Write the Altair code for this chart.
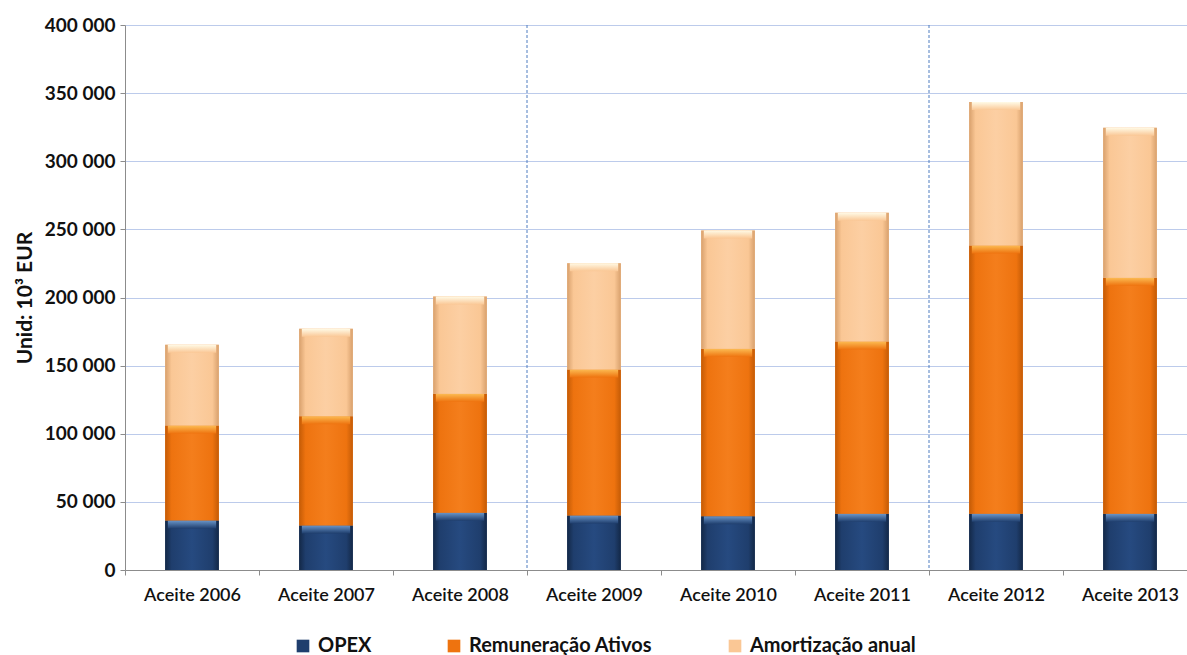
import altair as alt
import pandas as pd

# Values in 10^3 EUR
anos = ["Aceite 2006", "Aceite 2007", "Aceite 2008", "Aceite 2009",
        "Aceite 2010", "Aceite 2011", "Aceite 2012", "Aceite 2013"]
opex = [36300, 32700, 42000, 40000, 39500, 41200, 41200, 41200]
remuneracao = [69700, 80200, 87300, 107200, 122800, 126500, 197000, 173300]
amortizacao = [59300, 64100, 71400, 78000, 86900, 94500, 105200, 110100]

series = ["OPEX", "Remuneração Ativos", "Amortização anual"]
cores = ["#1f3e6d", "#ee730f", "#fac795"]
# edge / centre / top highlight tones for the bevelled look
bordas = ["#132847", "#c45b06", "#d8a06c"]
centros = ["#264a80", "#f47e1c", "#fccfa3"]
brilhos = ["#6a95c8", "#fcbb52", "#fffae6"]

separadores = ["Aceite 2009", "Aceite 2012"]

rows = []
for i, ano in enumerate(anos):
    for k, (nome, vals) in enumerate(zip(series, [opex, remuneracao, amortizacao])):
        rows.append({"ano": ano, "serie": nome, "ordem": k, "valor": vals[i]})
df = pd.DataFrame(rows)
sep_df = pd.DataFrame({"ano": separadores})

W, H = 1062, 545
FONT = "Lato"

x_scale = alt.Scale(domain=anos, range=[0, 1072], paddingInner=0, paddingOuter=0)
y_scale = alt.Scale(domain=[0, 400000])

base = alt.Chart(df).transform_stack(
    stack="valor", groupby=["ano"], as_=["y0", "y1"],
    sort=[alt.SortField("ordem", order="ascending")]
)

x_enc = alt.X(
    "ano:N", scale=x_scale, sort=anos, title=None,
    axis=alt.Axis(
        tickBand="extent", ticks=True, tickSize=5, tickColor="#8c8c8c",
        domainColor="#8c8c8c", labelFont=FONT, labelFontSize=18,
        labelFontWeight=600, labelColor="#111111", labelPadding=11,
        labelAngle=0, grid=False,
    ),
)
y_enc = alt.Y(
    "y1:Q", scale=y_scale,
    title="Unid: 10³ EUR",
    axis=alt.Axis(
        values=list(range(0, 400001, 50000)),
        labelExpr="replace(format(datum.value, ','), /,/g, ' ')",
        grid=True, gridColor="#bccbeb", gridWidth=1,
        domainColor="#8c8c8c", tickColor="#8c8c8c", tickSize=5,
        labelFont=FONT, labelFontSize=19, labelFontWeight="bold",
        labelColor="#111111", labelPadding=5,
        titleFont=FONT, titleFontSize=21, titleFontWeight="bold",
        titleColor="#111111", titlePadding=9,
    ),
)

bar_w = alt.RelativeBandSize(0.4)

# solid layer carrying the legend
solid = base.mark_bar(width=bar_w).encode(
    x=x_enc,
    y=y_enc,
    y2="y0:Q",
    color=alt.Color(
        "serie:N",
        scale=alt.Scale(domain=series, range=cores),
        legend=alt.Legend(
            title=None, orient="none", direction="horizontal",
            legendX=168, legendY=611, columnPadding=72,
            symbolType="square", symbolSize=160, symbolStrokeWidth=0,
            labelFont=FONT, labelFontSize=20, labelFontWeight="bold",
            labelColor="#111111", labelOffset=5, labelLimit=400,
        ),
    ),
)

layers = [solid]
for k, nome in enumerate(series):
    body = alt.Gradient(
        gradient="linear", x1=0, x2=1, y1=0, y2=0,
        stops=[
            alt.GradientStop(color=bordas[k], offset=0),
            alt.GradientStop(color=cores[k], offset=0.12),
            alt.GradientStop(color=centros[k], offset=0.5),
            alt.GradientStop(color=cores[k], offset=0.88),
            alt.GradientStop(color=bordas[k], offset=1),
        ],
    )
    top = alt.Gradient(
        gradient="linear", x1=0, x2=0, y1=0, y2=1,
        stops=[
            alt.GradientStop(color=brilhos[k], offset=0),
            alt.GradientStop(color=cores[k], offset=1),
        ],
    )
    seg = base.transform_filter(alt.datum.serie == nome)
    layers.append(
        seg.mark_bar(width=bar_w, fill=body).encode(
            x=alt.X("ano:N", scale=x_scale, sort=anos),
            y=alt.Y("y1:Q", scale=y_scale),
            y2="y0:Q",
        )
    )
    layers.append(
        seg.mark_bar(width=alt.RelativeBandSize(0.36), fill=top, y2Offset=8).encode(
            x=alt.X("ano:N", scale=x_scale, sort=anos),
            y=alt.Y("y1:Q", scale=y_scale),
            y2="y1:Q",
        )
    )

# dashed separators between groups of years
sep = alt.Chart(sep_df).mark_rule(color="#4f7cc0", strokeDash=[3, 2], strokeWidth=1).encode(
    x=alt.X("ano:N", scale=x_scale, sort=anos, bandPosition=0),
    y=alt.value(0),
    y2=alt.value(H),
)
layers.append(sep)

chart = alt.layer(*layers).properties(
    width=W, height=H,
    autosize=alt.AutoSizeParams(type="none"),
    padding={"left": 125, "top": 25, "right": 0, "bottom": 85},
    background="white",
).configure_view(stroke=None)

chart.save("out.html", embed_options={"renderer": "svg", "actions": False})
